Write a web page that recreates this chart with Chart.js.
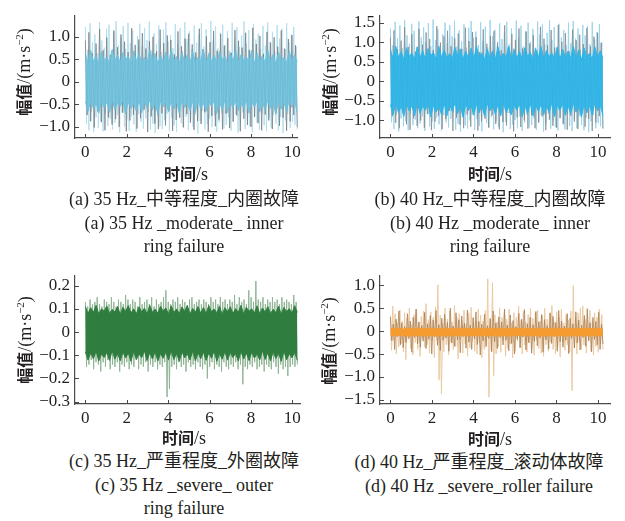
<!DOCTYPE html>
<html>
<head>
<meta charset="utf-8">
<script src="https://cdn.jsdelivr.net/npm/chart.js@4.4.0/dist/chart.umd.min.js"></script>
<style>
  body { margin: 0; background: #fff; width: 625px; height: 521px; overflow: hidden; position: relative;
         font-family: 'Liberation Serif', 'Times New Roman', 'DejaVu Serif', 'Noto Sans CJK SC', serif; color: #231f20; }
  .panel { position: absolute; }
  .cap { position: absolute; width: 320px; text-align: center; font-size: 18px; line-height: 23.5px; white-space: nowrap; }
  .ttl { position: absolute; white-space: nowrap; font-size: 18px; transform: translate(-50%, -50%); }
  .ttl.rot { transform: translate(-50%, -50%) rotate(-90deg); }
  .zh { font-family: 'Noto Sans CJK SC', sans-serif; font-weight: bold; font-size: 16px; }
  sup { font-size: 11px; }
</style>
</head>
<body>
<div class="panel" style="left:0;top:0"><canvas id="chartA" width="305" height="190"></canvas></div>
<div class="panel" style="left:305px;top:0"><canvas id="chartB" width="312" height="190"></canvas></div>
<div class="panel" style="left:0;top:260px"><canvas id="chartC" width="305" height="190"></canvas></div>
<div class="panel" style="left:305px;top:260px"><canvas id="chartD" width="312" height="190"></canvas></div>

<div class="ttl rot" style="left:23px;top:72px"><span class="zh">幅值</span>/(m·s<sup>−2</sup>)</div>
<div class="ttl rot" style="left:329px;top:72px"><span class="zh">幅值</span>/(m·s<sup>−2</sup>)</div>
<div class="ttl rot" style="left:24px;top:340px"><span class="zh">幅值</span>/(m·s<sup>−2</sup>)</div>
<div class="ttl rot" style="left:328px;top:341px"><span class="zh">幅值</span>/(m·s<sup>−2</sup>)</div>

<div class="ttl" style="left:186px;top:173px"><span class="zh">时间</span>/s</div>
<div class="ttl" style="left:490px;top:173px"><span class="zh">时间</span>/s</div>
<div class="ttl" style="left:184px;top:437px"><span class="zh">时间</span>/s</div>
<div class="ttl" style="left:490px;top:438px"><span class="zh">时间</span>/s</div>

<div class="cap" style="left:24px;top:188px">(a) 35 Hz_中等程度_内圈故障<br>(a) 35 Hz _moderate_ inner<br>ring failure</div>
<div class="cap" style="left:330px;top:188px">(b) 40 Hz_中等程度_内圈故障<br>(b) 40 Hz _moderate_ inner<br>ring failure</div>
<div class="cap" style="left:24px;top:450px">(c) 35 Hz_严重程度_外圈故障<br>(c) 35 Hz _severe_ outer<br>ring failure</div>
<div class="cap" style="left:319px;top:451px">(d) 40 Hz_严重程度_滚动体故障<br>(d) 40 Hz _severe_roller failure</div>

<script>
// every record is 10.24 s long
const recordLength = 10.24;
const timeTicks = [0, 2, 4, 6, 8, 10];

// (a) 35 Hz moderate inner ring: dense core band + grey and light blue peaks
const coreTopA = [
  0.62,0.42,0.7,0.45,0.58,0.4,0.67,0.48,0.55,0.41,
  0.72,0.46,0.6,0.43,0.65,0.5,0.57,0.4,0.69,0.47,
  0.61,0.44,0.54,0.42,0.71,0.49,0.63,0.41,0.58,0.45,
  0.66,0.43,0.7,0.48,0.56,0.4,0.64,0.46,0.6,0.42,
  0.68,0.44,0.55,0.47,0.72,0.41,0.62,0.45,0.59,0.43,
  0.67,0.49,0.57,0.4,0.65,0.46,0.7,0.42,0.6,0.48,
  0.56,0.44,0.69,0.41,0.63,0.47,0.58,0.43,0.71,0.45,
  0.61,0.4,0.66,0.48,0.54,0.42,0.68,0.46,0.6,0.44
];
const coreBottomA = [
  -0.44,-0.66,-0.41,-0.6,-0.48,-0.7,-0.43,-0.57,-0.46,-0.68,
  -0.4,-0.62,-0.47,-0.55,-0.42,-0.71,-0.45,-0.59,-0.49,-0.65,
  -0.41,-0.69,-0.44,-0.58,-0.4,-0.63,-0.48,-0.72,-0.43,-0.56,
  -0.46,-0.67,-0.42,-0.61,-0.45,-0.7,-0.41,-0.57,-0.47,-0.64,
  -0.43,-0.68,-0.4,-0.6,-0.48,-0.66,-0.44,-0.55,-0.42,-0.71,
  -0.46,-0.62,-0.41,-0.69,-0.45,-0.58,-0.43,-0.65,-0.47,-0.6,
  -0.4,-0.7,-0.44,-0.56,-0.42,-0.67,-0.46,-0.63,-0.41,-0.59,
  -0.48,-0.72,-0.43,-0.61,-0.45,-0.66,-0.4,-0.57,-0.44,-0.68
];
const greyA = [
  0.92,-0.74,1.1,-0.88,0.63,-1.02,0.85,-0.66,1.17,-0.9,
  0.7,-1.08,0.98,-0.79,0.6,-0.95,1.14,-0.83,0.77,-1.0,
  1.05,-0.69,0.89,-1.1,0.66,-0.86,1.19,-0.73,0.82,-1.04,
  0.94,-0.81,1.08,-0.62,0.74,-1.12,0.9,-0.77,1.0,-0.93,
  0.68,-1.05,1.16,-0.7,0.86,-0.97,1.03,-0.64,0.93,-1.09,
  0.61,-0.85,1.12,-0.8,0.79,-1.01,0.96,-0.72,1.07,-0.91,
  0.83,-1.07,0.65,-0.87,1.18,-0.94,0.72,-0.68,1.01,-1.11,
  0.88,-0.76,1.13,-0.99,0.69,-0.84,1.06,-1.06,0.8,-0.71,
  0.97,-1.03,0.64,-0.89,1.15,-0.75,0.91,-1.1,0.76,-0.82,
  1.09,-0.96,0.71,-1.0,1.2,-0.78,0.84,-0.92,1.02,-1.08,
  0.62,-0.73,1.11,-0.86,0.87,-1.05,0.99,-0.69,0.78,-0.98,
  1.14,-0.8,0.73,-1.09,0.95,-0.88,1.04,-0.74,0.81,-1.01
];
const lightA = [
  1.22,-0.94,0.71,-1.08,1.3,-0.66,0.88,-1.12,1.05,-0.79,
  0.64,-1.02,1.33,-0.87,0.92,-1.1,0.76,-0.7,1.18,-0.98,
  1.27,-0.83,0.69,-1.06,1.1,-0.91,1.35,-0.74,0.81,-1.13,
  0.97,-0.68,1.24,-1.0,0.73,-0.86,1.31,-1.09,0.86,-0.77,
  1.14,-0.95,0.67,-1.11,1.02,-0.72,1.29,-0.89,0.79,-1.04,
  1.2,-0.81,0.93,-0.67,1.34,-1.07,0.7,-0.93,1.08,-1.14,
  0.84,-0.76,1.26,-0.99,0.66,-1.05,1.16,-0.85,1.32,-0.71,
  0.9,-1.1,1.04,-0.8,0.75,-0.97,1.28,-1.12,0.83,-0.69,
  1.19,-0.92,0.68,-1.03,1.33,-0.78,0.95,-1.08,1.12,-0.84,
  0.72,-1.0,1.25,-0.73,0.87,-1.15,1.06,-0.88,1.3,-0.65,
  0.78,-1.06,1.17,-0.94,0.65,-0.82,1.35,-1.01,0.91,-0.75,
  1.23,-1.11,0.74,-0.9,1.09,-0.7,1.27,-1.04,0.82,-0.96,
  1.13,-0.79,0.69,-1.09,1.31,-0.87,0.98,-0.72,1.21,-1.13,
  0.77,-0.95,1.03,-0.68,1.34,-1.05,0.85,-0.83,1.15,-0.99,
  0.7,-1.12,1.29,-0.77,0.94,-0.91,1.07,-1.07,0.73,-0.7,
  1.24,-0.97,0.8,-1.1,1.32,-0.81,0.89,-1.02,1.11,-0.74,
  0.67,-0.93,1.26,-1.08,0.96,-0.78,1.18,-1.14,0.75,-0.86,
  1.3,-0.71,0.88,-1.03,1.05,-0.9,1.22,-0.96,0.79,-1.06
];
const yTicksA = [-1, -0.5, 0, 0.5, 1];
const yLabelsA = ['−1.0', '−0.5', '0', '0.5', '1.0'];

// (b) 40 Hz moderate inner ring
const coreTopB = [
  0.82,0.58,0.9,0.62,0.76,0.55,0.86,0.64,0.72,0.57,
  0.88,0.6,0.79,0.56,0.84,0.66,0.74,0.55,0.9,0.61,
  0.8,0.59,0.71,0.57,0.87,0.65,0.83,0.56,0.77,0.6,
  0.85,0.58,0.89,0.63,0.73,0.55,0.82,0.61,0.78,0.57,
  0.88,0.59,0.72,0.62,0.9,0.56,0.81,0.6,0.76,0.58,
  0.86,0.64,0.74,0.55,0.84,0.61,0.89,0.57,0.79,0.63,
  0.73,0.59,0.87,0.56,0.82,0.62,0.77,0.58,0.9,0.6,
  0.8,0.55,0.85,0.63,0.72,0.57,0.88,0.61,0.78,0.59
];
const coreBottomB = [
  -0.6,-0.86,-0.57,-0.8,-0.64,-0.9,-0.58,-0.76,-0.62,-0.88,
  -0.55,-0.82,-0.63,-0.74,-0.57,-0.91,-0.61,-0.79,-0.65,-0.85,
  -0.56,-0.89,-0.6,-0.77,-0.55,-0.83,-0.64,-0.92,-0.58,-0.75,
  -0.62,-0.87,-0.57,-0.81,-0.61,-0.9,-0.56,-0.76,-0.63,-0.84,
  -0.58,-0.88,-0.55,-0.8,-0.64,-0.86,-0.6,-0.74,-0.57,-0.91,
  -0.62,-0.82,-0.56,-0.89,-0.61,-0.77,-0.58,-0.85,-0.63,-0.8,
  -0.55,-0.9,-0.6,-0.75,-0.57,-0.87,-0.62,-0.83,-0.56,-0.79,
  -0.64,-0.92,-0.58,-0.81,-0.61,-0.86,-0.55,-0.76,-0.6,-0.88
];
const greyB = [
  1.12,-0.9,1.3,-1.06,0.82,-1.2,1.04,-0.8,1.38,-1.1,
  0.88,-1.24,1.2,-0.95,0.76,-1.14,1.34,-1.0,0.94,-1.19,
  1.25,-0.84,1.08,-1.25,0.8,-1.03,1.41,-0.88,0.99,-1.22,
  1.15,-0.97,1.29,-0.76,0.9,-1.27,1.1,-0.93,1.22,-1.11,
  0.83,-1.2,1.37,-0.85,1.03,-1.16,1.26,-0.78,1.13,-1.26,
  0.75,-1.02,1.33,-0.96,0.96,-1.18,1.16,-0.87,1.28,-1.09,
  1.0,-1.23,0.79,-1.04,1.43,-1.13,0.87,-0.82,1.21,-1.28,
  1.06,-0.92,1.35,-1.17,0.84,-1.0,1.27,-1.21,0.97,-0.86,
  1.18,-1.2,0.78,-1.06,1.39,-0.9,1.09,-1.25,0.92,-0.98,
  1.31,-1.14,0.86,-1.19,1.44,-0.94,1.01,-1.1,1.23,-1.24,
  0.77,-0.88,1.32,-1.03,1.05,-1.22,1.19,-0.83,0.95,-1.16,
  1.36,-0.96,0.89,-1.27,1.14,-1.05,1.24,-0.89,0.98,-1.2
];
const lightB = [
  1.35,-1.05,0.92,-1.22,1.52,-0.86,1.1,-1.28,1.43,-0.95,
  0.85,-1.15,1.56,-1.02,1.18,-1.25,0.96,-0.82,1.47,-1.12,
  1.29,-0.98,0.88,-1.2,1.53,-1.08,1.12,-0.9,1.38,-1.27,
  1.0,-0.84,1.49,-1.16,0.9,-1.03,1.58,-1.22,1.05,-0.93,
  1.33,-1.1,0.83,-1.26,1.21,-0.87,1.5,-1.05,0.97,-1.18,
  1.44,-0.96,1.15,-0.8,1.55,-1.24,0.89,-1.09,1.3,-1.29,
  1.02,-0.91,1.46,-1.13,0.86,-1.21,1.37,-1.0,1.54,-0.85,
  1.11,-1.25,1.27,-0.97,0.93,-1.14,1.51,-1.28,1.03,-0.83,
  1.4,-1.07,0.87,-1.19,1.57,-0.92,1.16,-1.23,1.32,-1.01,
  0.91,-1.17,1.48,-0.88,1.08,-1.3,1.25,-1.04,1.52,-0.81,
  0.95,-1.22,1.36,-1.11,0.84,-0.99,1.55,-1.2,1.13,-0.9,
  1.42,-1.27,0.9,-1.06,1.28,-0.86,1.5,-1.18,1.01,-1.12,
  1.34,-0.95,0.86,-1.24,1.53,-1.03,1.19,-0.87,1.45,-1.29,
  0.94,-1.1,1.24,-0.83,1.57,-1.21,1.06,-1.0,1.39,-1.16,
  0.88,-1.26,1.47,-0.94,1.12,-1.08,1.31,-1.23,0.92,-0.85,
  1.5,-1.14,0.98,-1.27,1.54,-0.97,1.09,-1.2,1.35,-0.89,
  0.82,-1.12,1.44,-1.25,1.17,-0.93,1.41,-1.3,0.95,-1.03,
  1.52,-0.86,1.07,-1.2,1.26,-1.07,1.46,-1.15,1.0,-1.22
];
const yTicksB = [-1, -0.5, 0, 0.5, 1, 1.5];
const yLabelsB = ['−1.0', '−0.5', '0', '0.5', '1.0', '1.5'];

// (c) 35 Hz severe outer ring
const coreTopC = [
  0.11,0.08,0.105,0.085,0.115,0.078,0.1,0.09,0.112,0.08,
  0.098,0.086,0.11,0.076,0.107,0.088,0.114,0.082,0.1,0.079,
  0.109,0.087,0.103,0.077,0.115,0.085,0.099,0.081,0.111,0.09,
  0.104,0.078,0.113,0.084,0.1,0.08,0.108,0.089,0.115,0.077,
  0.102,0.086,0.11,0.081,0.106,0.079,0.114,0.088,0.099,0.083,
  0.112,0.076,0.105,0.087,0.109,0.08,0.101,0.085,0.115,0.078,
  0.107,0.09,0.1,0.082,0.113,0.079,0.104,0.086,0.11,0.08,
  0.098,0.084,0.112,0.077,0.106,0.088,0.101,0.081,0.114,0.085
];
const coreBottomC = [
  -0.085,-0.12,-0.09,-0.115,-0.082,-0.125,-0.094,-0.11,-0.088,-0.122,
  -0.08,-0.117,-0.092,-0.124,-0.086,-0.112,-0.09,-0.126,-0.083,-0.118,
  -0.095,-0.11,-0.081,-0.123,-0.089,-0.116,-0.084,-0.125,-0.093,-0.113,
  -0.087,-0.121,-0.08,-0.118,-0.091,-0.126,-0.085,-0.111,-0.094,-0.12,
  -0.082,-0.124,-0.089,-0.115,-0.086,-0.122,-0.09,-0.113,-0.081,-0.126,
  -0.093,-0.117,-0.084,-0.121,-0.088,-0.11,-0.092,-0.125,-0.083,-0.116,
  -0.09,-0.123,-0.086,-0.112,-0.094,-0.12,-0.08,-0.118,-0.089,-0.124,
  -0.085,-0.114,-0.091,-0.126,-0.082,-0.119,-0.093,-0.111,-0.087,-0.122
];
const fringeC = [
  0.13,-0.15,0.11,-0.14,0.14,-0.12,0.12,-0.16,0.13,-0.13,
  0.15,-0.14,0.12,-0.17,0.11,-0.13,0.14,-0.15,0.13,-0.12,
  0.12,-0.16,0.15,-0.14,0.13,-0.15,0.11,-0.13,0.14,-0.17,
  0.13,-0.14,0.12,-0.15,0.16,-0.13,0.14,-0.16,0.12,-0.14,
  0.14,-0.15,0.13,-0.12,0.11,-0.16,0.15,-0.14,0.12,-0.15,
  0.13,-0.13,0.14,-0.17,0.12,-0.14,0.15,-0.15,0.11,-0.13,
  0.14,-0.16,0.12,-0.14,0.13,-0.15,0.15,-0.13,0.18,-0.28,
  0.13,-0.245,0.12,-0.15,0.14,-0.14,0.13,-0.16,0.15,-0.13,
  0.12,-0.15,0.14,-0.14,0.13,-0.17,0.11,-0.13,0.14,-0.15,
  0.15,-0.14,0.12,-0.16,0.13,-0.13,0.14,-0.15,0.12,-0.16,
  0.14,-0.14,0.13,-0.2,0.12,-0.15,0.15,-0.13,0.13,-0.16,
  0.14,-0.14,0.12,-0.15,0.15,-0.17,0.13,-0.13,0.14,-0.15,
  0.12,-0.16,0.14,-0.14,0.13,-0.15,0.16,-0.13,0.12,-0.16,
  0.15,-0.14,0.13,-0.225,0.14,-0.15,0.12,-0.16,0.18,-0.14,
  0.15,-0.15,0.13,-0.13,0.22,-0.16,0.14,-0.15,0.13,-0.14,
  0.15,-0.17,0.12,-0.14,0.14,-0.15,0.13,-0.16,0.15,-0.13,
  0.13,-0.15,0.14,-0.18,0.12,-0.14,0.15,-0.16,0.13,-0.15,
  0.14,-0.19,0.13,-0.15,0.12,-0.14,0.16,-0.15,0.13,-0.14
];
const yTicksC = [-0.3, -0.2, -0.1, 0, 0.1, 0.2];
const yLabelsC = ['−0.3', '−0.2', '−0.1', '0', '0.1', '0.2'];

// (d) 40 Hz severe rolling element: thin core band with sparse impacts
const coreTopD = [
  0.05,0.06,0.04,0.07,0.05,0.045,0.065,0.05,0.06,0.04,
  0.07,0.055,0.045,0.06,0.05,0.068,0.042,0.058,0.05,0.064,
  0.047,0.06,0.052,0.07,0.044,0.056,0.062,0.048,0.066,0.05,
  0.058,0.043,0.06,0.069,0.051,0.046,0.063,0.055,0.07,0.045,
  0.057,0.05,0.065,0.042,0.06,0.053,0.068,0.047,0.055,0.062,
  0.05,0.07,0.044,0.059,0.052,0.066,0.048,0.061,0.043,0.057,
  0.064,0.05,0.069,0.046,0.055,0.06,0.045,0.067,0.052,0.058,
  0.049,0.063,0.054,0.07,0.047,0.06,0.051,0.065,0.044,0.056
];
const coreBottomD = [
  -0.1,-0.09,-0.11,-0.095,-0.085,-0.105,-0.1,-0.115,-0.09,-0.1,
  -0.108,-0.092,-0.1,-0.112,-0.088,-0.104,-0.097,-0.11,-0.094,-0.102,
  -0.116,-0.09,-0.1,-0.107,-0.093,-0.111,-0.086,-0.103,-0.098,-0.114,
  -0.095,-0.105,-0.09,-0.109,-0.1,-0.092,-0.113,-0.097,-0.104,-0.089,
  -0.11,-0.099,-0.106,-0.094,-0.115,-0.1,-0.091,-0.108,-0.096,-0.103,
  -0.087,-0.112,-0.1,-0.106,-0.093,-0.11,-0.098,-0.114,-0.09,-0.101,
  -0.107,-0.095,-0.111,-0.088,-0.103,-0.116,-0.097,-0.105,-0.092,-0.109,
  -0.1,-0.094,-0.113,-0.099,-0.106,-0.09,-0.11,-0.096,-0.104,-0.1
];
const darkD = [
  0.32,-0.21,0.15,-0.4,0.26,-0.12,0.44,-0.3,0.18,-0.36,
  0.1,-0.25,0.38,-0.16,0.22,-0.46,0.3,-0.14,0.48,-0.28,
  0.2,-0.35,0.12,-0.22,0.41,-0.38,0.16,-0.18,0.34,-0.5,
  0.24,-0.13,0.45,-0.31,0.14,-0.42,0.28,-0.2,0.36,-0.15,
  0.19,-0.44,0.5,-0.26,0.11,-0.33,0.4,-0.19,0.25,-0.47,
  0.33,-0.12,0.17,-0.37,0.46,-0.24,0.13,-0.4,0.29,-0.17,
  0.42,-0.29,0.21,-0.52,0.15,-0.21,0.37,-0.34,0.12,-0.16,
  0.27,-0.45,0.44,-0.23,0.18,-0.38,0.31,-0.14,0.2,-0.3,
  0.48,-0.2,0.13,-0.43,0.35,-0.27,0.23,-0.5,0.1,-0.18,
  0.39,-0.36,0.26,-0.13,0.47,-0.41,0.16,-0.25,0.3,-0.48,
  0.14,-0.22,0.43,-0.32,0.2,-0.15,0.36,-0.46,0.25,-0.19,
  0.12,-0.39,0.4,-0.27,0.32,-0.12,0.19,-0.44,0.45,-0.23,
  0.22,-0.35,0.11,-0.2,0.38,-0.49,0.28,-0.16,0.16,-0.37,
  0.42,-0.26,0.24,-0.41,0.13,-0.14,0.34,-0.33,0.49,-0.21,
  0.18,-0.45,0.3,-0.18,0.21,-0.3,0.41,-0.4,0.15,-0.28
];
const lightD = [
  0.3,-0.42,0.55,-0.2,0.38,-0.5,0.18,-0.35,0.46,-0.28,
  0.22,-0.45,0.4,-0.62,0.28,-0.18,0.5,-0.38,0.15,-0.52,
  0.36,-0.25,0.48,-0.4,0.2,-0.55,0.32,-0.16,0.44,-0.35,
  0.6,-0.3,0.25,-0.48,0.42,-0.22,0.3,-0.58,0.52,-0.2,
  1.01,-1.07,0.35,-1.37,0.18,-0.45,0.5,-0.3,0.26,-0.52,
  0.44,-0.24,0.2,-0.4,0.56,-0.34,0.3,-0.6,0.38,-0.18,
  0.24,-0.48,0.46,-0.28,0.16,-0.55,0.4,-0.36,0.52,-0.22,
  0.3,-0.44,0.2,-0.5,0.48,-0.26,0.35,-0.58,0.22,-0.4,
  0.45,-0.3,1.14,-1.44,0.28,-0.42,1.06,-0.97,0.36,-0.5,
  0.2,-0.34,0.5,-0.46,0.3,-0.2,0.42,-0.55,0.26,-0.38,
  0.48,-0.28,0.18,-0.58,0.4,-0.44,0.3,-0.22,0.54,-0.36,
  0.24,-0.5,0.44,-0.3,0.2,-0.46,0.36,-0.26,0.5,-0.4,
  0.28,-0.52,0.4,-0.2,0.46,-0.38,0.22,-0.48,0.34,-0.55,
  0.5,-0.3,0.26,-0.44,0.38,-0.24,0.56,-0.4,0.2,-0.5,
  0.42,-0.34,0.3,-0.56,0.48,-0.26,0.18,-0.42,0.36,-0.3,
  0.24,-0.46,0.44,-1.3,0.99,-0.36,0.3,-0.5,0.4,-0.22,
  0.5,-0.4,0.55,-0.3,0.26,-0.48,0.38,-0.2,0.46,-0.44,
  0.22,-0.52,0.4,-0.34,0.3,-0.46,0.48,-0.28,0.36,-0.4
];
const yTicksD = [-1.5, -1, -0.5, 0, 0.5, 1];
const yLabelsD = ['−1.5', '−1.0', '−0.5', '0', '0.5', '1.0'];

const axisColor = '#4a4a4a';
const textColor = '#231f20';
const tickFontFamily = "'Liberation Serif', 'Times New Roman', 'DejaVu Serif', serif";

function toPoints(values) {
  const step = recordLength / (values.length - 1);
  return values.map((v, i) => ({ x: i * step, y: v }));
}

function traceSet(values, color) {
  return {
    data: toPoints(values),
    borderColor: color,
    borderWidth: 1,
    pointRadius: 0,
    tension: 0,
    borderJoinStyle: 'bevel',
    fill: false
  };
}

// the dense middle of the signal, filled between its upper and lower edges
function bandSets(top, bottom, color) {
  return [
    { data: toPoints(top), borderColor: color, backgroundColor: color, borderWidth: 1,
      pointRadius: 0, tension: 0, borderJoinStyle: 'bevel', fill: '+1' },
    { data: toPoints(bottom), borderColor: color, borderWidth: 1,
      pointRadius: 0, tension: 0, borderJoinStyle: 'bevel', fill: false }
  ];
}

// tick marks point into the plot, like the original figure
const inwardTicks = {
  id: 'inwardTicks',
  afterDraw(chart) {
    const { ctx, chartArea, scales } = chart;
    ctx.save();
    ctx.strokeStyle = axisColor;
    ctx.lineWidth = 1;
    ctx.beginPath();
    scales.x.ticks.forEach(t => {
      const px = Math.round(scales.x.getPixelForValue(t.value)) + 0.5;
      ctx.moveTo(px, chartArea.bottom);
      ctx.lineTo(px, chartArea.bottom - 4);
    });
    scales.y.ticks.forEach(t => {
      const py = Math.round(scales.y.getPixelForValue(t.value)) + 0.5;
      ctx.moveTo(chartArea.left, py);
      ctx.lineTo(chartArea.left + 4, py);
    });
    ctx.stroke();
    ctx.restore();
  }
};

function makeChart(id, datasets, p) {
  const tickFont = { family: tickFontFamily, size: 17 };
  return new Chart(document.getElementById(id), {
    type: 'line',
    data: { datasets: datasets },
    options: {
      responsive: false,
      animation: false,
      events: [],
      parsing: false,
      layout: { padding: { top: p.padTop, right: p.padRight, left: 0, bottom: 0 } },
      plugins: { legend: { display: false }, tooltip: { enabled: false } },
      scales: {
        x: {
          type: 'linear',
          min: -0.5,
          max: p.xMax,
          afterFit: s => { s.height = p.xHeight; },
          afterBuildTicks: s => { s.ticks = timeTicks.map(v => ({ value: v })); },
          ticks: { font: tickFont, color: textColor, padding: 4, autoSkip: false, maxRotation: 0,
                   callback: v => String(v) },
          grid: { display: true, drawOnChartArea: false, drawTicks: false },
          border: { display: true, color: axisColor, width: 1.2 }
        },
        y: {
          type: 'linear',
          min: p.yMin,
          max: p.yMax,
          afterFit: s => { s.width = 75; },
          afterBuildTicks: s => { s.ticks = p.yTicks.map(v => ({ value: v })); },
          ticks: { font: tickFont, color: textColor, padding: 5, autoSkip: false,
                   callback: (v, i) => p.yLabels[i] },
          grid: { display: true, drawOnChartArea: false, drawTicks: false },
          border: { display: true, color: axisColor, width: 1.2 }
        }
      }
    },
    plugins: [inwardTicks]
  });
}

// first dataset is drawn on top
makeChart('chartA', [
  ...bandSets(coreTopA, coreBottomA, 'rgba(108,192,222,0.88)'),
  traceSet(greyA, 'rgba(120,126,130,0.75)'),
  traceSet(lightA, '#b5dfee')
], { padTop: 7, padRight: 7, xHeight: 52, xMax: 10.27, yMin: -1.25, yMax: 1.48, yTicks: yTicksA, yLabels: yLabelsA });

makeChart('chartB', [
  ...bandSets(coreTopB, coreBottomB, 'rgba(43,180,232,0.92)'),
  traceSet(greyB, 'rgba(130,136,140,0.75)'),
  traceSet(lightB, '#9fd4ea')
], { padTop: 6, padRight: 7, xHeight: 52, xMax: 10.58, yMin: -1.45, yMax: 1.69, yTicks: yTicksB, yLabels: yLabelsB });

makeChart('chartC', [
  ...bandSets(coreTopC, coreBottomC, '#2f7e3f'),
  traceSet(fringeC, '#8fb494')
], { padTop: 13, padRight: 4, xHeight: 46, xMax: 10.4, yMin: -0.31, yMax: 0.245, yTicks: yTicksC, yLabels: yLabelsC });

makeChart('chartD', [
  ...bandSets(coreTopD, coreBottomD, '#f59b2f'),
  traceSet(darkD, 'rgba(170,128,85,0.8)'),
  traceSet(lightD, '#ebcaa2')
], { padTop: 13, padRight: 7, xHeight: 46, xMax: 10.58, yMin: -1.59, yMax: 1.22, yTicks: yTicksD, yLabels: yLabelsD });
</script>
</body>
</html>
